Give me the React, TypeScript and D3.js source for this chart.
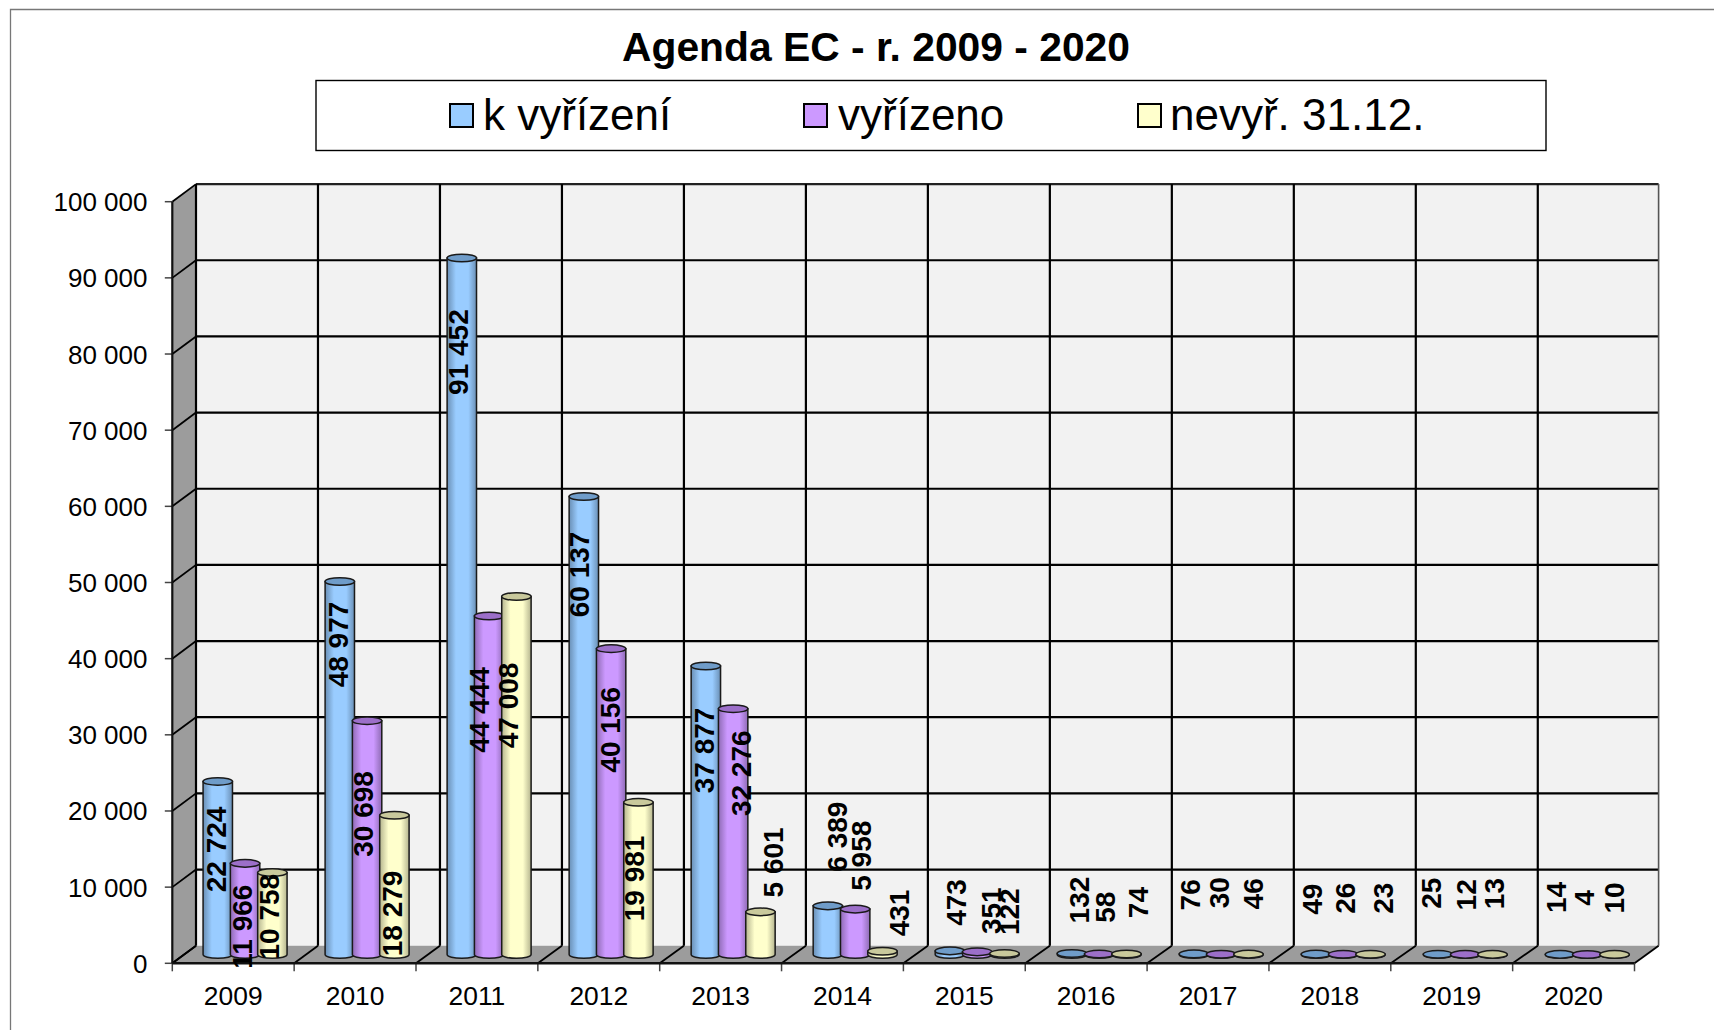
import React from "react";
import * as d3 from "d3";

const years = ["2009","2010","2011","2012","2013","2014","2015","2016","2017","2018","2019","2020"];
const kVyrizeni = [22724,48977,91452,60137,37877,6389,473,132,76,49,25,14];
const vyrizeno = [11966,30698,44444,40156,32276,5958,351,58,30,26,12,4];
const nevyrizeno = [10758,18279,47008,19981,5601,431,122,74,46,23,13,10];
const seriesNames = ["k vyřízení","vyřízeno","nevyř. 31.12."];
const yTicks = [0,10000,20000,30000,40000,50000,60000,70000,80000,90000,100000];

// Hand-placed data label anchors, on the value axis, per series
const labelAtBlue = [13800,40700,79100,49900,26800,15470,6830,7150,7830,7260,8050,7490];
const labelAtPurple = [3660,18460,32100,29500,23800,12970,5750,6200,8120,7400,7830,7420];
const labelAtYellow = [4960,5390,32700,9990,12100,5450,5620,6820,7970,7400,8000,7420];
// Hand-placed sideways shift of the labels, in pixels from the bar axis
const labelShiftBlue = [-1,-1,-3,-4,-1,10,6.8,8,-3.5,-3.1,-6.3,-3.3];
const labelShiftPurple = [-2.5,-4,-10,-1,8,6.5,14.5,6,-1.3,2.4,1.5,-2.3];
const labelShiftYellow = [-3,-2,-8,-4,13,17.5,5.5,11.5,5.3,13.4,1.8,0.4];

const FONT = "'Liberation Sans', Arial, sans-serif";
const depthX = 23.7, depthY = 17.6;
const depthGrow = 0.13; // the back wall is drawn very slightly wider than the front edge
const left = 172.3, right = 1634.5, y0 = 963.3, y100 = 201.7;
const barStep = 27.3, barR = 14.7, capR = 3.8;

const x = d3.scaleBand<string>().domain(years).range([left, right]);
const y = d3.scaleLinear().domain([0, 100000]).range([y0, y100]);
const offY = -depthY / 2; // bars stand mid-depth
const offX = depthX / 2;
const backX = (front: number, i: number) => front + depthX + i * depthGrow;

const fmt = (v: number) => (v >= 1000 ? `${Math.floor(v / 1000)} ${String(v % 1000).padStart(3, "0")}` : String(v));

const series = [
  { name: seriesNames[0], values: kVyrizeni, labelAt: labelAtBlue, shift: labelShiftBlue, fill: "#99CCFF", edge: "#6A8FB5", cap: "#6F9CC9", id: "gb" },
  { name: seriesNames[1], values: vyrizeno, labelAt: labelAtPurple, shift: labelShiftPurple, fill: "#CC99FF", edge: "#8F6BB5", cap: "#9C6FC9", id: "gp" },
  { name: seriesNames[2], values: nevyrizeno, labelAt: labelAtYellow, shift: labelShiftYellow, fill: "#FFFFCC", edge: "#B5B58F", cap: "#C9C99C", id: "gy" },
];
const legendSwatchX = [450, 804, 1138];
const legendTextX = [483, 838, 1170];

export default function App() {
  const edges = [...years.map((c) => x(c)!), right];
  const wallRight = 1658.6;
  const barX = (i: number, j: number) =>
    x(years[i])! + x.bandwidth() / 2 + offX + i * 0.17 + (j - 1) * barStep;
  return (
    <svg width={1714} height={1030} style={{ position: "absolute", left: 0, top: 0, background: "#fff" }} fontFamily={FONT}>
      <defs>
        {series.map((s) => (
          <linearGradient key={s.id} id={s.id} x1="0" x2="1" y1="0" y2="0">
            <stop offset="0" stopColor={s.edge} />
            <stop offset="0.3" stopColor={s.fill} />
            <stop offset="0.72" stopColor={s.fill} />
            <stop offset="1" stopColor={s.edge} />
          </linearGradient>
        ))}
      </defs>
      <path d="M10.5 1030V9.5H1714" fill="none" stroke="#777" strokeWidth={1.3} />

      <text x={876} y={61} textAnchor="middle" fontSize={40.8} fontWeight="bold">Agenda EC - r. 2009 - 2020</text>

      <rect x={316} y={80.5} width={1230} height={70} fill="#fff" stroke="#000" strokeWidth={1.4} />
      {series.map((s, i) => (
        <g key={s.name}>
          <rect x={legendSwatchX[i]} y={104} width={23} height={23} fill={s.fill} stroke="#000" strokeWidth={2} />
          <text x={legendTextX[i]} y={130} fontSize={44}>{s.name}</text>
        </g>
      ))}

      {/* walls */}
      <rect x={left + depthX} y={y100 - depthY} width={wallRight - left - depthX} height={y0 - y100} fill="#F2F2F2" />
      <polygon
        points={`${left},${y100} ${left + depthX},${y100 - depthY} ${left + depthX},${y0 - depthY} ${left},${y0}`}
        fill="#9C9C9C"
      />
      <polygon
        points={`${left},${y0} ${left + depthX},${y0 - depthY} ${wallRight},${y0 - depthY} ${right},${y0}`}
        fill="#9C9C9C"
      />
      {/* grid */}
      {yTicks.map((t) => (
        <g key={t} stroke="#000" fill="none">
          {t > 0 && (
            <line x1={left + depthX} x2={wallRight} y1={y(t) - depthY} y2={y(t) - depthY} strokeWidth={2.2} stroke={t === 100000 ? "#222" : "#000"} />
          )}
          <line x1={left} x2={left + depthX} y1={y(t)} y2={y(t) - depthY} strokeWidth={1.8} />
          <line x1={left - 7.5} x2={left} y1={y(t)} y2={y(t)} strokeWidth={1.5} stroke="#444" />
        </g>
      ))}
      {edges.map((e, i) => {
        const last = i === edges.length - 1;
        const bx = last ? wallRight : backX(e, i);
        return (
          <g key={i} stroke="#000" fill="none">
            <line x1={bx} x2={bx} y1={y100 - depthY} y2={y0 - depthY} strokeWidth={last ? 1.6 : 2.2} stroke={last ? "#555" : "#000"} />
            <line x1={e} x2={bx} y1={y0} y2={y0 - depthY} strokeWidth={1.8} />
            <line x1={e} x2={e} y1={y0} y2={y0 + 8} strokeWidth={1.5} stroke="#444" />
          </g>
        );
      })}
      <line x1={left} x2={right} y1={y0} y2={y0} stroke="#111" strokeWidth={2.6} />
      <line x1={left} x2={left} y1={y100} y2={y0} stroke="#111" strokeWidth={2.2} />

      {/* axis text */}
      {yTicks.map((t) => (
        <text key={t} x={147.5} y={y(t) + 9.5} textAnchor="end" fontSize={26}>{fmt(t)}</text>
      ))}
      {years.map((c) => (
        <text key={c} x={x(c)! + x.bandwidth() / 2} y={1005} textAnchor="middle" fontSize={26.4}>{c}</text>
      ))}

      {/* cylinders */}
      {years.map((c, i) =>
        series.map((s, j) => {
          const cx = barX(i, j);
          const base = y(0) + offY;
          const top = y(s.values[i]) + offY;
          const body = `M${cx - barR} ${top}V${base}A${barR} ${capR} 0 0 0 ${cx + barR} ${base}V${top}Z`;
          return (
            <g key={c + j} stroke="#1a1a1a" strokeWidth={1.5}>
              <path d={body} fill={`url(#${s.id})`} />
              <ellipse cx={cx} cy={top} rx={barR} ry={capR} fill={s.cap} />
            </g>
          );
        })
      )}

      {/* data labels */}
      {years.map((c, i) =>
        series.map((s, j) => (
          <text
            key={c + j}
            transform={`translate(${barX(i, j) + s.shift[i]},${y(s.labelAt[i]) + offY}) rotate(-90)`}
            textAnchor="middle"
            dominantBaseline="central"
            fontSize={28}
            fontWeight="bold"
          >
            {fmt(s.values[i])}
          </text>
        ))
      )}
    </svg>
  );
}
